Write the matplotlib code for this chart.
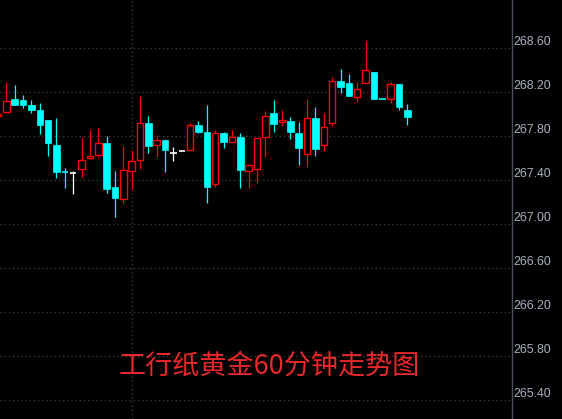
import matplotlib
matplotlib.use("Agg")
import matplotlib.pyplot as plt
import numpy as np

# ---- data ----
opens = [267.982, 268.018, 268.139, 268.130, 268.085, 268.039, 267.948, 267.721, 267.473, 267.464,
         267.500, 267.600, 267.627, 267.739, 267.339, 267.227, 267.482, 267.582, 267.921, 267.718,
         267.766, 267.651, 267.666, 267.673, 267.903, 267.839, 267.364, 267.830, 267.745, 267.794,
         267.485, 267.500, 267.791, 268.012, 267.927, 267.939, 267.830, 267.636, 267.966, 267.718,
         267.918, 268.303, 268.285, 268.157, 268.285, 268.385, 268.136, 268.136, 268.276, 268.039]
highs = [268.050, 268.294, 268.266, 268.175, 268.130, 268.103, 267.948, 267.966, 267.512, 267.485,
         267.785, 267.857, 267.875, 267.803, 267.485, 267.712, 267.675, 268.166, 267.985, 267.809,
         267.766, 267.703, 267.666, 267.921, 267.939, 268.085, 267.855, 267.839, 267.857, 267.830,
         267.536, 267.782, 268.030, 268.130, 268.039, 267.975, 267.930, 268.139, 268.066, 268.012,
         268.339, 268.412, 268.366, 268.294, 268.666, 268.385, 268.136, 268.294, 268.276, 268.094]
lows = [267.960, 268.018, 268.087, 268.060, 268.015, 267.824, 267.624, 267.424, 267.333, 267.278,
        267.424, 267.591, 267.609, 267.287, 267.069, 267.191, 267.324, 267.505, 267.651, 267.615,
        267.478, 267.578, 267.666, 267.673, 267.833, 267.196, 267.342, 267.696, 267.745, 267.333,
        267.333, 267.378, 267.615, 267.842, 267.896, 267.773, 267.542, 267.524, 267.624, 267.669,
        267.896, 268.196, 268.169, 268.115, 268.285, 268.142, 268.136, 268.100, 268.039, 267.905]
closes = [268.003, 268.121, 268.087, 268.087, 268.042, 267.905, 267.742, 267.478, 267.473, 267.464,
          267.585, 267.618, 267.736, 267.324, 267.242, 267.494, 267.575, 267.921, 267.712, 267.764,
          267.675, 267.651, 267.666, 267.900, 267.842, 267.342, 267.827, 267.745, 267.791, 267.491,
          267.536, 267.782, 267.982, 267.915, 267.945, 267.842, 267.696, 267.964, 267.687, 267.882,
          268.300, 268.251, 268.169, 268.227, 268.400, 268.142, 268.136, 268.273, 268.069, 267.978]
# candle colour class: r = up (hollow red), c = down (filled cyan), w = flat (white)
kinds = ['r', 'r', 'c', 'c', 'c', 'c', 'c', 'c', 'c', 'w',
         'r', 'r', 'r', 'c', 'c', 'r', 'r', 'r', 'c', 'r',
         'c', 'w', 'w', 'r', 'c', 'c', 'r', 'c', 'r', 'c',
         'r', 'r', 'r', 'c', 'r', 'c', 'c', 'r', 'c', 'r',
         'r', 'c', 'c', 'r', 'r', 'c', 'c', 'r', 'c', 'c']
ytick_vals = [265.40, 265.80, 266.20, 266.60, 267.00, 267.40, 267.80, 268.20, 268.60]
ytick_labels = ["265.40", "265.80", "266.20", "266.60", "267.00", "267.40", "267.80", "268.20", "268.60"]
day_break = 16
title = "工行纸黄金60分钟走势图"

# ---- styling ----
RED = "#ff0000"
CYAN = "#00ffff"
WHITE = "#ffffff"
colmap = {'r': RED, 'c': CYAN, 'w': WHITE}
W = 0.78
LW = 0.9

fig = plt.figure(figsize=(5.62, 4.19), dpi=100, facecolor="black")
ax = fig.add_axes([0, 0, 512 / 562, 1])
ax.set_facecolor("black")

x = np.arange(len(opens))
for i in x:
    o, h, l, c, k = opens[i], highs[i], lows[i], closes[i], kinds[i]
    col = colmap[k]
    top, bot = max(o, c), min(o, c)
    if abs(c - o) < 1e-9:
        ax.vlines(i, l, h, color=col, lw=LW, zorder=3)
        ax.hlines(o, i - W / 2, i + W / 2, color=col, lw=1.2, zorder=3)
    elif k == 'r':
        if h > top:
            ax.vlines(i, top, h, color=col, lw=LW, zorder=3)
        if l < bot:
            ax.vlines(i, l, bot, color=col, lw=LW, zorder=3)
        ax.bar(i, top - bot, bottom=bot, width=W, facecolor="black",
               edgecolor=col, linewidth=1.0, zorder=4)
    else:
        ax.vlines(i, l, h, color=col, lw=LW, zorder=3)
        ax.bar(i, top - bot, bottom=bot, width=W, facecolor=col,
               edgecolor=col, linewidth=0.5, zorder=4)

ax.axvline(day_break, color="#3a3a3a", lw=1, linestyle=(0, (1, 2)), zorder=1)

ax.set_xlim((0 + 2) / 8.354, (512 + 2) / 8.354)
ax.set_ylim(268.6 - (419 - 48.3) / 110, 268.6 + 48.3 / 110)

ax.set_yticks(ytick_vals)
ax.set_yticklabels(ytick_labels)
ax.yaxis.tick_right()
ax.tick_params(axis="y", length=0, pad=1, labelcolor="#aab0c0", labelsize=8.9)
for lab in ax.get_yticklabels():
    lab.set_fontfamily("Liberation Sans")
    lab.set_va("bottom")
ax.set_xticks([])
ax.grid(axis="y", color="#3a3a3a", lw=1, linestyle=(0, (1, 2)))

for s in ["top", "left", "bottom"]:
    ax.spines[s].set_visible(False)
ax.spines["right"].set_color("#4a5262")
ax.spines["right"].set_linewidth(1)

fig.text(269 / 562, 1 - 366 / 419, title, color="#e8282a", fontsize=19.5,
         family=["Noto Sans CJK SC", "DejaVu Sans"], ha="center", va="center")

fig.savefig("out.png", dpi=100, facecolor="black")
